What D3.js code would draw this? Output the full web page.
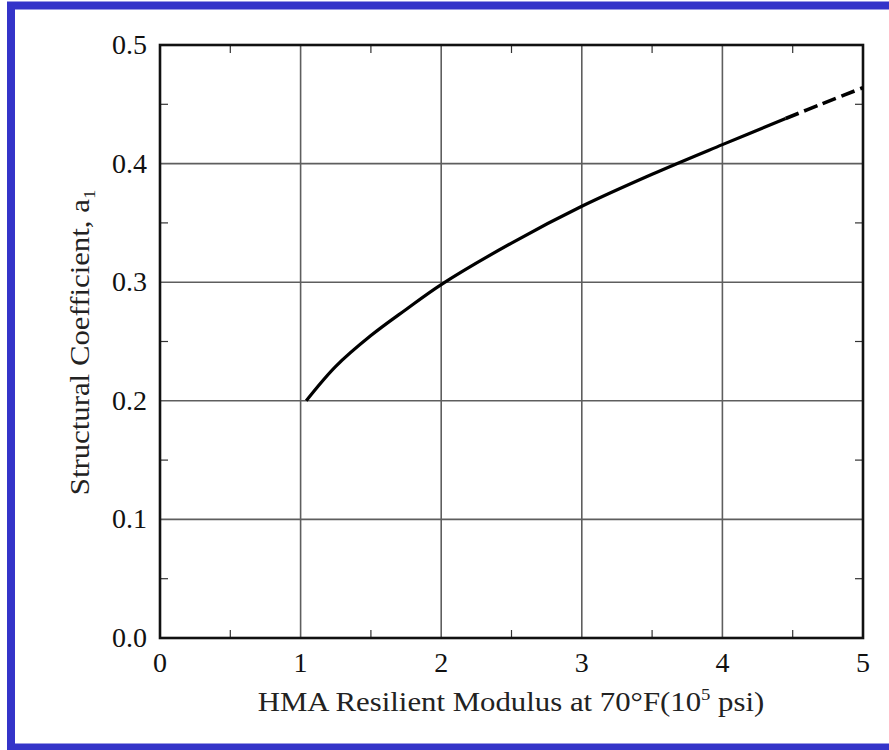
<!DOCTYPE html>
<html lang="en">
<head>
<meta charset="utf-8">
<script src="https://d3js.org/d3.v7.min.js"></script>
<style>
  body { margin: 0; background: #fff; }
  svg { display: block; }
</style>
</head>
<body>
<script>
// Curve values (modulus in 10^5 psi, coefficient a1)
var solidX = [1.04, 1.25, 1.5, 1.75, 2.0, 2.5, 3.0, 3.5, 4.0, 4.45];
var solidY = [0.200, 0.229, 0.255, 0.277, 0.298, 0.333, 0.364, 0.391, 0.416, 0.438];
var dashX = [4.45, 4.7, 5.0];
var dashY = [0.438, 0.450, 0.464];

var xTicks = [0, 1, 2, 3, 4, 5];
var yTicks = [0.0, 0.1, 0.2, 0.3, 0.4, 0.5];
var xMinor = [0.5, 1.5, 2.5, 3.5, 4.5];
var yMinor = [0.05, 0.15, 0.25, 0.35, 0.45];

var w = 889, h = 750;
// plot box (note: "top" is reserved on window, so use other names)
var plotL = 160, plotR = 863, plotT = 45, plotB = 638;

var svg = d3.select("body").append("svg")
  .attr("width", w)
  .attr("height", h);

// blue frame round the picture
svg.append("rect").attr("x", 0).attr("y", 0).attr("width", w).attr("height", h).attr("fill", "#fff");
svg.append("rect").attr("x", 11).attr("y", 5.5).attr("width", w + 20).attr("height", 742)
  .attr("fill", "none").attr("stroke", "#3434c9").attr("stroke-width", 8);

var x = d3.scaleLinear().domain([0, 5]).range([plotL, plotR]);
var y = d3.scaleLinear().domain([0, 0.5]).range([plotB, plotT]);

var font = "'Liberation Serif', 'DejaVu Serif', serif";

// grid
svg.append("g").selectAll("line")
  .data(xTicks.slice(1, -1))
  .enter().append("line")
  .attr("x1", function(d) { return x(d); })
  .attr("x2", function(d) { return x(d); })
  .attr("y1", plotT).attr("y2", plotB)
  .attr("stroke", "#5e5e5e").attr("stroke-width", 1.6);

svg.append("g").selectAll("line")
  .data(yTicks.slice(1, -1))
  .enter().append("line")
  .attr("y1", function(d) { return y(d); })
  .attr("y2", function(d) { return y(d); })
  .attr("x1", plotL).attr("x2", plotR)
  .attr("stroke", "#5e5e5e").attr("stroke-width", 1.6);

// minor ticks on all four sides, pointing inwards
var ticks = svg.append("g").attr("stroke", "#333").attr("stroke-width", 1.2);
xMinor.forEach(function(d) {
  ticks.append("line").attr("x1", x(d)).attr("x2", x(d)).attr("y1", plotB).attr("y2", plotB - 8);
  ticks.append("line").attr("x1", x(d)).attr("x2", x(d)).attr("y1", plotT).attr("y2", plotT + 8);
});
yMinor.forEach(function(d) {
  ticks.append("line").attr("y1", y(d)).attr("y2", y(d)).attr("x1", plotL).attr("x2", plotL + 8);
  ticks.append("line").attr("y1", y(d)).attr("y2", y(d)).attr("x1", plotR).attr("x2", plotR - 8);
});

// plot frame
svg.append("rect")
  .attr("x", plotL).attr("y", plotT)
  .attr("width", plotR - plotL).attr("height", plotB - plotT)
  .attr("fill", "none").attr("stroke", "#111").attr("stroke-width", 2.6);

// curve
var line = d3.line()
  .x(function(d) { return x(d[0]); })
  .y(function(d) { return y(d[1]); })
  .curve(d3.curveCatmullRom.alpha(0.5));

svg.append("path")
  .datum(d3.zip(solidX, solidY))
  .attr("d", line)
  .attr("fill", "none").attr("stroke", "#000").attr("stroke-width", 3.2);

svg.append("path")
  .datum(d3.zip(dashX, dashY))
  .attr("d", line)
  .attr("fill", "none").attr("stroke", "#000").attr("stroke-width", 3.6)
  .attr("stroke-dasharray", "14,6");

// tick labels
svg.append("g").selectAll("text")
  .data(xTicks)
  .enter().append("text")
  .attr("x", function(d) { return x(d); })
  .attr("y", 672)
  .attr("text-anchor", "middle")
  .attr("font-family", font).attr("font-size", 28)
  .attr("fill", "#111")
  .text(function(d) { return d; });

svg.append("g").selectAll("text")
  .data(yTicks)
  .enter().append("text")
  .attr("x", 147)
  .attr("y", function(d) { return y(d) + 9; })
  .attr("text-anchor", "end")
  .attr("font-family", font).attr("font-size", 28)
  .attr("fill", "#111")
  .text(function(d) { return d.toFixed(1); });

// axis titles (the scanned original is stretched a bit along the text)
var xt = svg.append("text")
  .attr("transform", "translate(511,711) scale(1.1,1)")
  .attr("text-anchor", "middle")
  .attr("font-family", font).attr("font-size", 28)
  .attr("fill", "#222");
xt.append("tspan").text("HMA Resilient Modulus at 70°F(10");
xt.append("tspan").attr("dy", -11).attr("font-size", 17).text("5");
xt.append("tspan").attr("dy", 11).text(" psi)");

var yt = svg.append("text")
  .attr("transform", "translate(89," + ((plotT + plotB) / 2 + 1) + ") rotate(-90) scale(1.1,1)")
  .attr("text-anchor", "middle")
  .attr("font-family", font).attr("font-size", 28)
  .attr("fill", "#222");
yt.append("tspan").text("Structural Coefficient, a");
yt.append("tspan").attr("dy", 6).attr("font-size", 17).text("1");
</script>
</body>
</html>
